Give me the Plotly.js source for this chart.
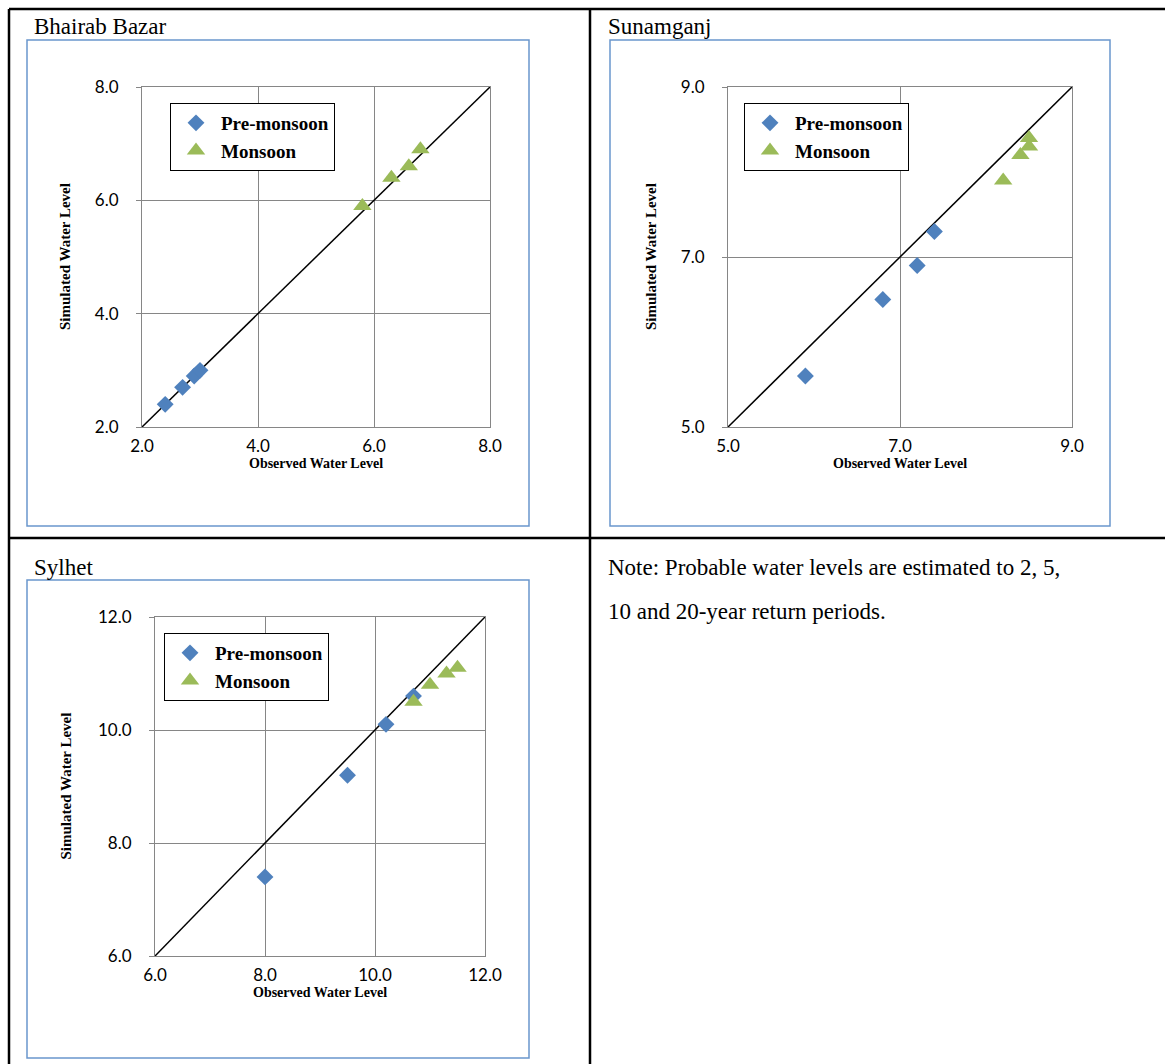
<!DOCTYPE html>
<html>
<head>
<meta charset="utf-8">
<script src="https://cdn.plot.ly/plotly-3.0.1.min.js"></script>
<style>html,body{margin:0;padding:0;background:#fff;}#chart{width:1165px;height:1064px;}</style>
</head>
<body>
<div id="chart"></div>
<script>
// ---- data ----
const panelTitles = ["Bhairab Bazar", "Sunamganj", "Sylhet"];
const seriesNames = ["Pre-monsoon", "Monsoon"];
const noteLines = ["Note: Probable water levels are estimated to 2, 5,", "10 and 20-year return periods."];
const xAxisTitle = "Observed Water Level";
const yAxisTitle = "Simulated Water Level";

const bhairabObsPre = [2.4, 2.7, 2.9, 3.0];
const bhairabSimPre = [2.4, 2.7, 2.9, 3.0];
const bhairabObsMon = [5.8, 6.3, 6.6, 6.8];
const bhairabSimMon = [5.9, 6.4, 6.6, 6.9];
const bhairabRange = [2, 8];
const bhairabTicks = [2, 4, 6, 8];

const sunamObsPre = [5.9, 6.8, 7.2, 7.4];
const sunamSimPre = [5.6, 6.5, 6.9, 7.3];
const sunamObsMon = [8.2, 8.4, 8.5, 8.5];
const sunamSimMon = [7.9, 8.2, 8.3, 8.4];
const sunamRange = [5, 9];
const sunamTicks = [5, 7, 9];

const sylhetObsPre = [8.0, 9.5, 10.2, 10.7];
const sylhetSimPre = [7.4, 9.2, 10.1, 10.6];
const sylhetObsMon = [10.7, 11.0, 11.3, 11.5];
const sylhetSimMon = [10.5, 10.8, 11.0, 11.1];
const sylhetRange = [6, 12];
const sylhetTicks = [6, 8, 10, 12];

// ---- helpers ----
const W = 1165, H = 1064;
const px = v => v / W;
const py = v => 1 - v / H;
const SERIF = "Liberation Serif, Times New Roman, serif";
const SANS = "Lato, Liberation Sans, sans-serif";
const preColor = "#4F81BD", monColor = "#9BBB59";
const gridCol = "#868686";

const panels = [
  {ax: "", obsPre: bhairabObsPre, simPre: bhairabSimPre, obsMon: bhairabObsMon, simMon: bhairabSimMon,
   range: bhairabRange, ticks: bhairabTicks, plot: [142, 490, 87, 427], frame: [27, 529, 40, 526],
   legend: "legend", legPos: [170, 103], title: panelTitles[0], titlePos: [32, 27], yTitleX: 65},
  {ax: "2", obsPre: sunamObsPre, simPre: sunamSimPre, obsMon: sunamObsMon, simMon: sunamSimMon,
   range: sunamRange, ticks: sunamTicks, plot: [728, 1072, 87, 427], frame: [610, 1110, 40, 526],
   legend: "legend2", legPos: [744, 103], title: panelTitles[1], titlePos: [606, 27], yTitleX: 651},
  {ax: "3", obsPre: sylhetObsPre, simPre: sylhetSimPre, obsMon: sylhetObsMon, simMon: sylhetSimMon,
   range: sylhetRange, ticks: sylhetTicks, plot: [155, 485, 617, 956], frame: [27, 529, 580, 1058],
   legend: "legend3", legPos: [164, 633], title: panelTitles[2], titlePos: [32, 567], yTitleX: 65}
];

const traces = [];
const layout = {
  width: W, height: H,
  margin: {l: 0, r: 0, t: 0, b: 0},
  paper_bgcolor: "#fff", plot_bgcolor: "#fff",
  showlegend: true,
  shapes: [], annotations: []
};

panels.forEach((p, i) => {
  const xa = "x" + p.ax, ya = "y" + p.ax;
  // 1:1 line
  traces.push({x: p.range, y: p.range, xaxis: xa, yaxis: ya, mode: "lines",
    line: {color: "#000", width: 1.5}, showlegend: false, hoverinfo: "skip"});
  traces.push({x: p.obsPre, y: p.simPre, xaxis: xa, yaxis: ya, mode: "markers", name: seriesNames[0],
    legend: p.legend, marker: {symbol: "diamond", size: 13, color: preColor}});
  traces.push({x: p.obsMon, y: p.simMon, xaxis: xa, yaxis: ya, mode: "markers", name: seriesNames[1],
    legend: p.legend, marker: {symbol: "triangle-up", size: 16, color: monColor}});

  const axCommon = {
    showgrid: true, gridcolor: gridCol, gridwidth: 1,
    showline: true, linecolor: gridCol, linewidth: 1, mirror: true,
    zeroline: false, tickmode: "array", tickformat: ".1f",
    tickfont: {family: SANS, size: 17, color: "#000"}, fixedrange: true
  };
  layout["xaxis" + p.ax] = Object.assign({}, axCommon, {
    domain: [px(p.plot[0]), px(p.plot[1])], range: p.range, tickvals: p.ticks,
    anchor: "y" + p.ax, ticks: "", ticklabelstandoff: 4
  });
  layout["yaxis" + p.ax] = Object.assign({}, axCommon, {
    domain: [py(p.plot[3]), py(p.plot[2])], range: p.range, tickvals: p.ticks,
    anchor: "x" + p.ax, ticks: "outside", ticklen: 5, tickcolor: gridCol, ticklabelstandoff: 14
  });
  layout[p.legend] = {
    x: px(p.legPos[0]), y: py(p.legPos[1]), xanchor: "left", yanchor: "top",
    bgcolor: "#fff", bordercolor: "#000", borderwidth: 1,
    font: {family: SERIF, size: 19, color: "#000", weight: "bold"},
    itemwidth: 40, tracegroupgap: 0
  };
  // chart frame
  layout.shapes.push({type: "rect", xref: "paper", yref: "paper",
    x0: px(p.frame[0]), x1: px(p.frame[1]), y0: py(p.frame[3]), y1: py(p.frame[2]),
    line: {color: "#6A96CD", width: 1.5}});
  // panel title
  layout.annotations.push({text: p.title, xref: "paper", yref: "paper", x: px(p.titlePos[0]), y: py(p.titlePos[1]),
    xanchor: "left", yanchor: "middle", showarrow: false, font: {family: SERIF, size: 23, color: "#000"}});
  // axis titles
  const cx = (p.plot[0] + p.plot[1]) / 2, cy = (p.plot[2] + p.plot[3]) / 2;
  layout.annotations.push({text: "<b>" + xAxisTitle + "</b>", xref: "paper", yref: "paper",
    x: px(cx), y: py(p.plot[3] + 36), xanchor: "center", yanchor: "middle", showarrow: false,
    font: {family: SERIF, size: 14, color: "#000"}});
  layout.annotations.push({text: "<b>" + yAxisTitle + "</b>", xref: "paper", yref: "paper",
    x: px(p.yTitleX), y: py(cy), xanchor: "center", yanchor: "middle", textangle: -90, showarrow: false,
    font: {family: SERIF, size: 15, color: "#000"}});
});

// note text
noteLines.forEach((t, i) => {
  layout.annotations.push({text: t, xref: "paper", yref: "paper", x: px(606), y: py(567 + i * 44),
    xanchor: "left", yanchor: "middle", showarrow: false, font: {family: SERIF, size: 23, color: "#000"}});
});

// table lines
const tbl = {color: "#000", width: 2.5};
[
  [9, 9, W, 9], [9, 9, 9, H], [590, 9, 590, H], [9, 538, W, 538]
].forEach(l => layout.shapes.push({type: "line", xref: "paper", yref: "paper",
  x0: px(l[0]), y0: py(l[1]), x1: px(l[2]), y1: py(l[3]), line: tbl}));

Plotly.newPlot("chart", traces, layout, {staticPlot: true, displayModeBar: false});
</script>
</body>
</html>
